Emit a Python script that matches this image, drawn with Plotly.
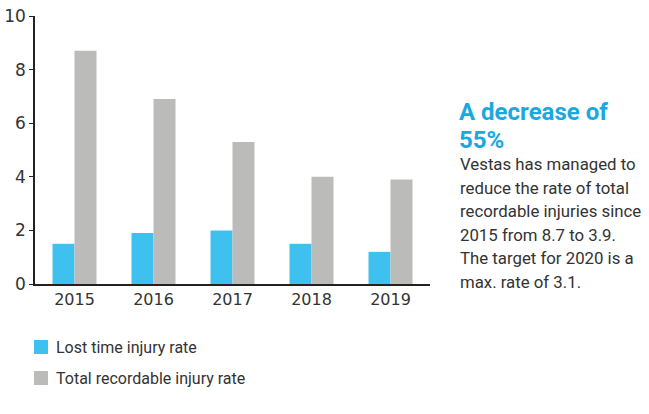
import plotly.graph_objects as go

years = ["2015", "2016", "2017", "2018", "2019"]
lost_time = [1.5, 1.9, 2.0, 1.5, 1.2]
total_recordable = [8.7, 6.9, 5.3, 4.0, 3.9]
y_ticks = [0, 2, 4, 6, 8, 10]
series_names = ["Lost time injury rate", "Total recordable injury rate"]
headline_lines = ["A decrease of", "55%"]
body_lines = [
    "Vestas has managed to",
    "reduce the rate of total",
    "recordable injuries since",
    "2015 from 8.7 to 3.9.",
    "The target for 2020 is a",
    "max. rate of 3.1.",
]

BLUE = "#3FC1F0"
GRAY = "#BBBBBA"
TEXT = "#333333"
HEAD = "#1AA8E0"

W, H = 649, 414
OFF = 0  # page body margin removed via post_script
# plot area in page pixels
PX0, PX1, PY0, PY1 = 35, 430, 16, 284


def px(x):
    return (x - PX0) / (PX1 - PX0)


def py(y):
    return (PY1 - y) / (PY1 - PY0)


fig = go.Figure()
fig.add_trace(go.Bar(x=years, y=lost_time, name=series_names[0],
                     marker=dict(color=BLUE, line=dict(width=0))))
fig.add_trace(go.Bar(x=years, y=total_recordable, name=series_names[1],
                     marker=dict(color=GRAY, line=dict(width=0))))

fig.update_layout(
    width=W, height=H,
    margin=dict(l=PX0 - OFF, r=W - (PX1 - OFF), t=PY0 - OFF, b=H - (PY1 - OFF),
                autoexpand=False),
    paper_bgcolor="white", plot_bgcolor="white",
    barmode="group", bargap=0.443, bargroupgap=0,
    font=dict(family="DejaVu Sans", color=TEXT, size=16),
    showlegend=False,
    xaxis=dict(
        showline=True, linecolor="#222222", linewidth=1.5,
        ticks="", showgrid=False, zeroline=False,
        tickfont=dict(family="DejaVu Sans", size=16, color=TEXT),
    ),
    yaxis=dict(
        range=[0, 10], tickvals=y_ticks,
        showline=True, linecolor="#222222", linewidth=1.5,
        ticks="outside", ticklen=4, tickcolor="#222222",
        showgrid=False, zeroline=False, ticklabeloverflow="allow",
        tickfont=dict(family="DejaVu Sans", size=17, color=TEXT),
    ),
)

# legend drawn as swatches + labels
legend_colors = [BLUE, GRAY]
legend_centers = [347, 378]
for name, col, yc in zip(series_names, legend_colors, legend_centers):
    fig.add_shape(type="rect", xref="paper", yref="paper",
                  x0=px(34), x1=px(48), y0=py(yc + 7), y1=py(yc - 7),
                  fillcolor=col, line=dict(width=0))
    fig.add_annotation(xref="paper", yref="paper", x=px(54), y=py(yc),
                       xanchor="left", yanchor="middle", showarrow=False,
                       text=name, font=dict(family="Roboto", size=16, color=TEXT))

# headline
for i, line in enumerate(headline_lines):
    fig.add_annotation(xref="paper", yref="paper", x=px(457), y=py(112.5 + 27 * i),
                       xanchor="left", yanchor="middle", showarrow=False,
                       text=line,
                       font=dict(family="Roboto", size=24, color=HEAD, weight="bold"))

# body
for i, line in enumerate(body_lines):
    fig.add_annotation(xref="paper", yref="paper", x=px(458), y=py(164 + 23.5 * i),
                       xanchor="left", yanchor="middle", showarrow=False,
                       text=line,
                       font=dict(family="Roboto", size=16.8, color=TEXT))

fig.write_html("out.html", config={"displayModeBar": False},
               post_script="document.body.style.margin='0px';")
